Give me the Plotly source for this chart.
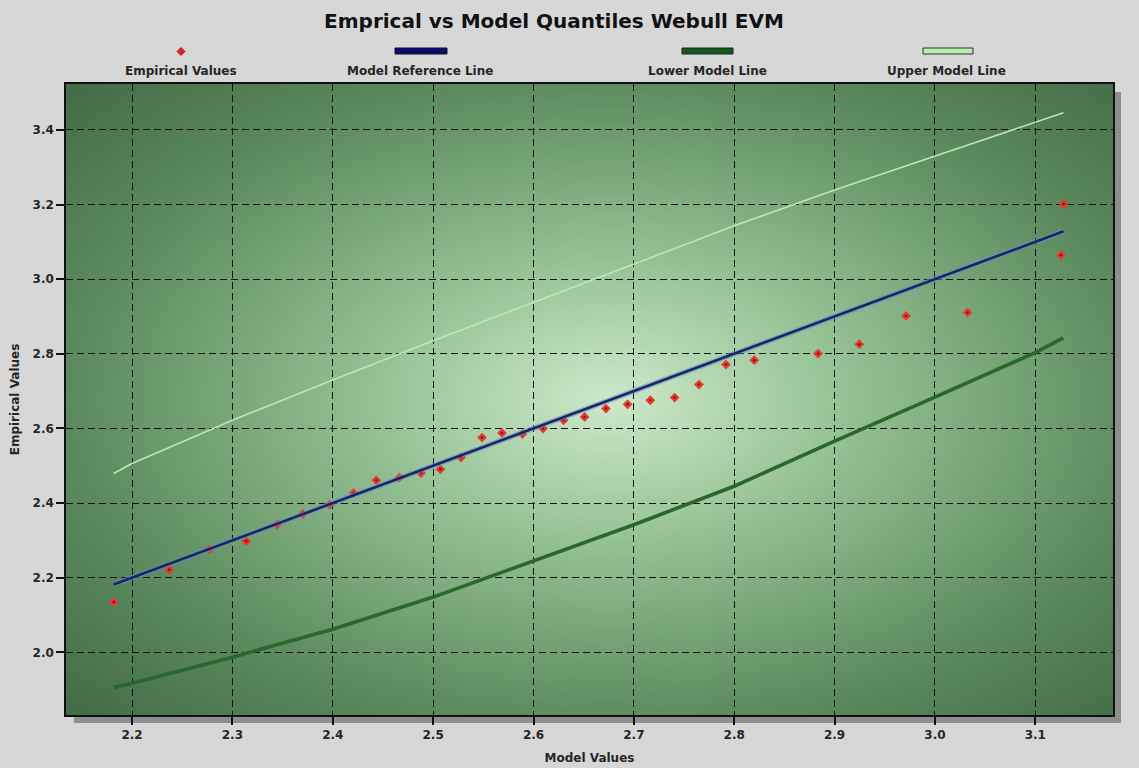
import base64
import struct
import zlib

import numpy as np
import plotly.graph_objects as go

# ---- data -------------------------------------------------------------
model_values = [2.1817, 2.2372, 2.2770, 2.3139, 2.3445, 2.3700, 2.3969, 2.4208,
                2.4434, 2.4663, 2.4879, 2.5072, 2.5278, 2.5487, 2.5686, 2.5890,
                2.6095, 2.6300, 2.6509, 2.6722, 2.6938, 2.7164, 2.7406, 2.7649,
                2.7918, 2.8200, 2.8835, 2.9246, 2.9712, 3.0325, 3.1256, 3.1282]
empirical_values = [2.1346, 2.2215, 2.2759, 2.2980, 2.3420, 2.3706, 2.3957, 2.4269,
                    2.4610, 2.4680, 2.4805, 2.4904, 2.5218, 2.5754, 2.5878, 2.5850,
                    2.5996, 2.6218, 2.6307, 2.6532, 2.6647, 2.6755, 2.6827, 2.7176,
                    2.7712, 2.7827, 2.8007, 2.8256, 2.9016, 2.9107, 3.0643, 3.2011]

band_x = [2.1817, 2.2, 2.3, 2.4, 2.5, 2.6, 2.7, 2.8, 2.9, 3.0, 3.1, 3.128]
lower_model = [1.906, 1.917, 1.987, 2.062, 2.148, 2.245, 2.342, 2.445, 2.566,
               2.684, 2.803, 2.8425]
upper_model = [2.479, 2.506, 2.622, 2.730, 2.835, 2.937, 3.040, 3.143, 3.239,
               3.330, 3.422, 3.446]

x_ticks = [2.2, 2.3, 2.4, 2.5, 2.6, 2.7, 2.8, 2.9, 3.0, 3.1]
y_ticks = [2.0, 2.2, 2.4, 2.6, 2.8, 3.0, 3.2, 3.4]

# ---- layout geometry (pixels) ------------------------------------------
W, H = 1139, 768
L, R, T, B = 66, 1113, 84, 715
PW, PH = R - L, B - T
FONT = "DejaVu Sans, Verdana, sans-serif"


def px(x):
    return (x - L) / PW


def py(y):
    return (B - y) / PH


# ---- radial green backdrop for the plotting area -----------------------
def make_png(rgb):
    h, w, _ = rgb.shape
    raw = b"".join(b"\x00" + rgb[i].tobytes() for i in range(h))

    def chunk(tag, data):
        c = tag + data
        return struct.pack(">I", len(data)) + c + struct.pack(">I", zlib.crc32(c) & 0xFFFFFFFF)

    return (b"\x89PNG\r\n\x1a\n"
            + chunk(b"IHDR", struct.pack(">IIBBBBB", w, h, 8, 2, 0, 0, 0))
            + chunk(b"IDAT", zlib.compress(raw, 9))
            + chunk(b"IEND", b""))


gw, gh = 262, 158
gx = np.linspace(L, R, gw)[None, :]
gy = np.linspace(T, B, gh)[:, None]
cx, cy = 610.0, 400.0
t = np.sqrt(((gx - cx) / (PW / 2)) ** 2 + ((gy - cy) / (PH / 2)) ** 2)
stops_t = [0.0, 0.45, 1.0, 1.5]
stops_c = np.array([[206, 234, 203], [150, 195, 150], [94, 142, 97], [64, 104, 68]], float)
img = np.zeros((gh, gw, 3))
for k in range(3):
    img[..., k] = np.interp(t, stops_t, stops_c[:, k])
bg_png = "data:image/png;base64," + base64.b64encode(make_png(img.astype(np.uint8))).decode()

# ---- figure ------------------------------------------------------------
fig = go.Figure()

fig.add_trace(go.Scatter(x=band_x, y=upper_model, mode="lines", name="Upper Model Line",
                         line=dict(color="#b9eab3", width=1.6), showlegend=False))
fig.add_trace(go.Scatter(x=band_x, y=lower_model, mode="lines", name="Lower Model Line",
                         line=dict(color="#2a662d", width=3.6), showlegend=False))
fig.add_trace(go.Scatter(x=model_values, y=empirical_values, mode="markers",
                         name="Empirical Values", showlegend=False,
                         marker=dict(symbol="diamond", size=7.5, color="#e8382e",
                                     line=dict(width=0))))
fig.add_trace(go.Scatter(x=model_values, y=empirical_values, mode="markers",
                         hoverinfo="skip", showlegend=False,
                         marker=dict(symbol="circle", size=2.6, color="#7a1616",
                                     line=dict(width=0))))
fig.add_trace(go.Scatter(x=model_values, y=model_values, mode="lines", hoverinfo="skip",
                         line=dict(color="rgba(110,140,210,0.55)", width=5.5), showlegend=False))
fig.add_trace(go.Scatter(x=model_values, y=model_values, mode="lines",
                         name="Model Reference Line",
                         line=dict(color="#17265f", width=2.6), showlegend=False))

shapes = [
    # drop shadow around the plotting area
    dict(type="rect", xref="paper", yref="paper", x0=px(R), x1=px(R + 8), y0=py(B + 8),
         y1=py(T + 8), fillcolor="#8e8e8e", line_width=0, layer="below"),
    dict(type="rect", xref="paper", yref="paper", x0=px(L + 8), x1=px(R + 8), y0=py(B + 8),
         y1=py(B), fillcolor="#8e8e8e", line_width=0, layer="below"),
    # legend swatches
    dict(type="rect", xref="paper", yref="paper", x0=px(395), x1=px(447), y0=py(54), y1=py(48),
         fillcolor="#0b0b6b", line=dict(color="#111133", width=1)),
    dict(type="rect", xref="paper", yref="paper", x0=px(682), x1=px(733), y0=py(54), y1=py(48),
         fillcolor="#0f5a1c", line=dict(color="#222222", width=1)),
    dict(type="rect", xref="paper", yref="paper", x0=px(923), x1=px(973), y0=py(54), y1=py(48),
         fillcolor="#b4f0ae", line=dict(color="#333333", width=1)),
    dict(type="path", xref="paper", yref="paper", xsizemode="pixel", ysizemode="pixel",
         xanchor=px(181), yanchor=py(51.5), path="M 0 4 L 4 0 L 0 -4 L -4 0 Z",
         fillcolor="#e0202a", line=dict(color="#c01818", width=1)),
]

legend_font = dict(family=FONT, size=12, color="#262626", weight="bold")
annotations = [
    dict(text="Empirical Values", x=px(181), y=py(71.5)),
    dict(text="Model Reference Line", x=px(420), y=py(71.5)),
    dict(text="Lower Model Line", x=px(707), y=py(71.5)),
    dict(text="Upper Model Line", x=px(946), y=py(71.5)),
]
for a in annotations:
    a.update(xref="paper", yref="paper", showarrow=False, xanchor="center",
             yanchor="middle", font=legend_font)

axis_font = dict(family=FONT, size=12, color="#262626", weight="bold")
common_axis = dict(showline=True, mirror=True, linecolor="#111111", linewidth=1.5,
                   ticks="outside", ticklen=8, tickwidth=1.5, tickcolor="#111111",
                   showgrid=True, gridcolor="#111111", gridwidth=1.4, griddash="7px,4px",
                   zeroline=False, tickfont=axis_font, tickformat=".1f", automargin=False)

fig.update_layout(
    width=W, height=H,
    margin=dict(l=L, r=W - R, t=T, b=H - B, pad=0, autoexpand=False),
    paper_bgcolor="#d7d7d7",
    plot_bgcolor="#6f9f71",
    title=dict(text="Emprical vs Model Quantiles Webull EVM", x=554 / W, xanchor="center",
               y=1 - 21 / H, yanchor="middle",
               font=dict(family=FONT, size=20, color="#111111", weight="bold")),
    xaxis=dict(range=[2.1342, 3.1774], tickvals=x_ticks,
               title=dict(text="Model Values", font=axis_font, standoff=12), **common_axis),
    yaxis=dict(range=[1.832, 3.523], tickvals=y_ticks,
               title=dict(text="Empirical Values", font=axis_font, standoff=10), **common_axis),
    images=[dict(source=bg_png, xref="paper", yref="paper", x=0, y=1, sizex=1, sizey=1,
                 xanchor="left", yanchor="top", sizing="stretch", layer="below")],
    shapes=shapes,
    annotations=annotations,
    showlegend=False,
)

fig.write_html("out.html")
